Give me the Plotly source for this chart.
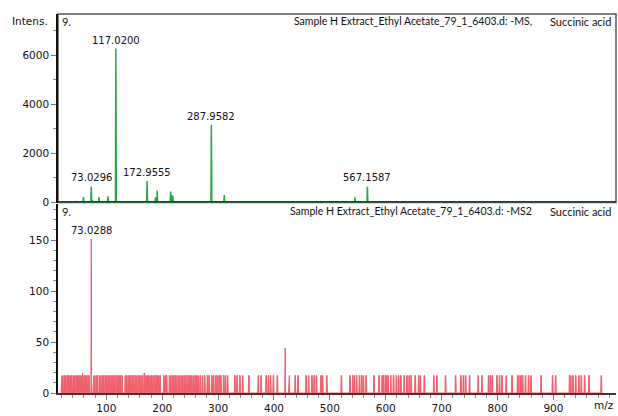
import plotly.graph_objects as go

# ---------------- data ----------------
ms1_mz = [45.0, 59.0, 73.0296, 75.0, 87.0, 103.0, 117.0200, 172.9555, 188.0, 191.0,
          215.0, 217.0, 219.0, 287.9582, 311.0, 545.0, 567.1587]
ms1_int = [60, 220, 654, 100, 220, 250, 6270, 880, 210, 490,
           450, 300, 260, 3170, 300, 210, 654]
ms1_labeled = [73.0296, 117.0200, 172.9555, 287.9582, 567.1587]

ms2_noise_mz = [
    20, 22, 25, 27, 30, 33, 35, 38, 41, 43, 46, 48, 51, 53, 55, 60, 62, 65, 67, 69,
    77, 79, 82, 84, 88, 90, 93, 95, 98, 101, 103, 106, 108, 110, 113, 115, 118, 121,
    123, 126, 128, 134, 136, 139, 141, 144, 147, 149, 152, 154, 157, 160, 162, 165,
    171, 173, 176, 178, 181, 183, 186, 189, 191, 194, 196, 203, 205, 208, 213, 215,
    218, 221, 224, 226, 229, 231, 234, 237, 240, 242, 245, 248, 250, 253, 256, 259,
    261, 264, 268, 272, 276, 281, 284, 289, 292, 296, 299, 302, 305, 310, 313, 317,
    330, 334, 339, 344, 355, 372, 377, 386, 390, 394, 399, 406, 427, 438, 443,
    457.5, 462, 468, 472, 476, 484, 487, 494.5, 520.7, 536, 541, 544, 548, 553, 557,
    560, 565, 579, 588, 593.6, 596, 599.5, 602, 604, 609, 614, 619, 623, 627, 633,
    638, 642, 645.5, 652.6, 659, 662, 669, 686, 691.5, 707, 725, 734.5, 739, 743,
    750, 765.5, 772, 784, 787, 790.5, 799, 803.6, 808, 815.6, 826, 836, 838, 842,
    845, 850, 855.6, 860, 878, 898.5, 904, 929, 931, 935, 940, 945.7, 950, 956,
    963.6, 985.7]
ms2_noise_level = 17.2
ms2_peak_mz = [57.0, 73.0288, 168.0, 420.0]
ms2_peak_int = [19.5, 151.0, 19.5, 44.0]
ms2_labeled = [73.0288]

x_ticks = [100, 200, 300, 400, 500, 600, 700, 800, 900]
y1_ticks = [0, 2000, 4000, 6000]
y2_ticks = [0, 50, 100, 150]

title_ms1 = "Sample H Extract_Ethyl Acetate_79_1_6403.d: -MS,"
title_ms2 = "Sample H Extract_Ethyl Acetate_79_1_6403.d: -MS2"
compound = "Succinic acid"
scan_no = "9."

GREEN = "#27a846"
RED = "#ef5f6b"

# ---------------- build profile traces from the data ----------------
x1, y1 = [], []
for m, h in sorted(zip(ms1_mz, ms1_int)):
    x1 += [m - 0.8, m, m + 0.8]
    y1 += [0, h, 0]

ms2 = [(m, ms2_noise_level) for m in ms2_noise_mz] + list(zip(ms2_peak_mz, ms2_peak_int))
ms2.sort()
x2, y2 = [], []
for m, h in ms2:
    if h > 30:
        x2 += [m - 0.6, m, m + 0.6]
        y2 += [0, h, 0]
    else:
        x2 += [m - 1.0, m - 0.5, m + 0.5, m + 1.0]
        y2 += [0, h, h, 0]

fig = go.Figure()
fig.add_trace(go.Scatter(x=x1, y=y1, mode="lines", line=dict(color=GREEN, width=1.5),
                         xaxis="x2", yaxis="y2", hoverinfo="skip"))
fig.add_trace(go.Scatter(x=x2, y=y2, mode="lines", line=dict(color=RED, width=1),
                         fill="tozeroy", fillcolor=RED,
                         xaxis="x", yaxis="y", hoverinfo="skip"))

XR = [13.5, 1012]
tickfont = dict(family="DejaVu Sans", size=10.5, color="#111")
txtfont = dict(family="Lato", size=10.5, color="#111")
cmpfont = dict(family="Lato", size=11, color="#111")

fig.update_layout(
    width=618, height=416,
    margin=dict(l=58, r=2, t=14, b=20),
    paper_bgcolor="white", plot_bgcolor="white",
    showlegend=False,
    xaxis=dict(domain=[0, 1], range=XR, anchor="y",
               tickmode="array", tickvals=x_ticks, ticks="outside", ticklen=5,
               tickcolor="#777", tickfont=tickfont,
               minor=dict(ticks="outside", ticklen=3, dtick=20, tick0=0, tickcolor="#888"),
               showline=True, linecolor="#5b2b2b", linewidth=1.5,
               showgrid=False, zeroline=False),
    yaxis=dict(domain=[0, 0.5], range=[0, 186], anchor="x",
               tickmode="array", tickvals=y2_ticks, ticks="outside", ticklen=5,
               tickcolor="#777", tickfont=tickfont,
               minor=dict(ticks="outside", ticklen=3, dtick=10, tick0=0, tickcolor="#888"),
               showline=True, linecolor="#111", linewidth=1.5,
               showgrid=False, zeroline=False),
    xaxis2=dict(domain=[0, 1], range=XR, anchor="y2", matches="x",
                showticklabels=False, ticks="", showline=False,
                showgrid=False, zeroline=False),
    yaxis2=dict(domain=[0.5026, 1], range=[0, 7680], anchor="x2",
                tickmode="array", tickvals=y1_ticks, ticks="outside", ticklen=5,
                tickcolor="#777", tickfont=tickfont,
                minor=dict(ticks="outside", ticklen=3, dtick=1000, tick0=0, tickcolor="#888"),
                showline=True, linecolor="#111", linewidth=1.5,
                showgrid=False, zeroline=False),
)

# box around the upper panel and its dark baseline
fig.add_shape(type="rect", xref="x2 domain", yref="y2 domain", x0=0, x1=1, y0=0, y1=1,
              line=dict(color="#555", width=1.5), layer="below")
fig.add_shape(type="line", xref="x2 domain", yref="y2", x0=0, x1=1, y0=0, y1=0,
              line=dict(color="#1f4a2a", width=3))

ann = []
for m in ms1_labeled:
    ann.append(dict(x=m, y=ms1_int[ms1_mz.index(m)], xref="x2", yref="y2",
                    text=f"{m:.4f}", showarrow=False, yanchor="bottom", yshift=1,
                    font=dict(family="DejaVu Sans", size=10, color="#111")))
for m in ms2_labeled:
    ann.append(dict(x=m, y=ms2_peak_int[ms2_peak_mz.index(m)], xref="x", yref="y",
                    text=f"{m:.4f}", showarrow=False, yanchor="bottom", yshift=1,
                    font=dict(family="DejaVu Sans", size=10, color="#111")))

for yd, title in ((1.0, title_ms1), (0.5, title_ms2)):
    ann.append(dict(x=0.004, y=yd, xref="paper", yref="paper", text=scan_no,
                    showarrow=False, xanchor="left", yanchor="top", yshift=1, font=cmpfont))
    ann.append(dict(x=0.853, y=yd, xref="paper", yref="paper", text=title,
                    showarrow=False, xanchor="right", yanchor="top", yshift=1, font=txtfont))
    ann.append(dict(x=0.9946, y=yd, xref="paper", yref="paper", text=compound,
                    showarrow=False, xanchor="right", yanchor="top", yshift=1, font=cmpfont))

ann.append(dict(x=-0.086, y=0.982, xref="paper", yref="paper", text="Intens.",
                showarrow=False, xanchor="left", yanchor="middle", font=tickfont))
ann.append(dict(x=0.978, y=-0.031, xref="paper", yref="paper", text="m/z",
                showarrow=False, xanchor="center", yanchor="middle", font=tickfont))

fig.update_layout(annotations=ann)
fig.write_html("out.html")
